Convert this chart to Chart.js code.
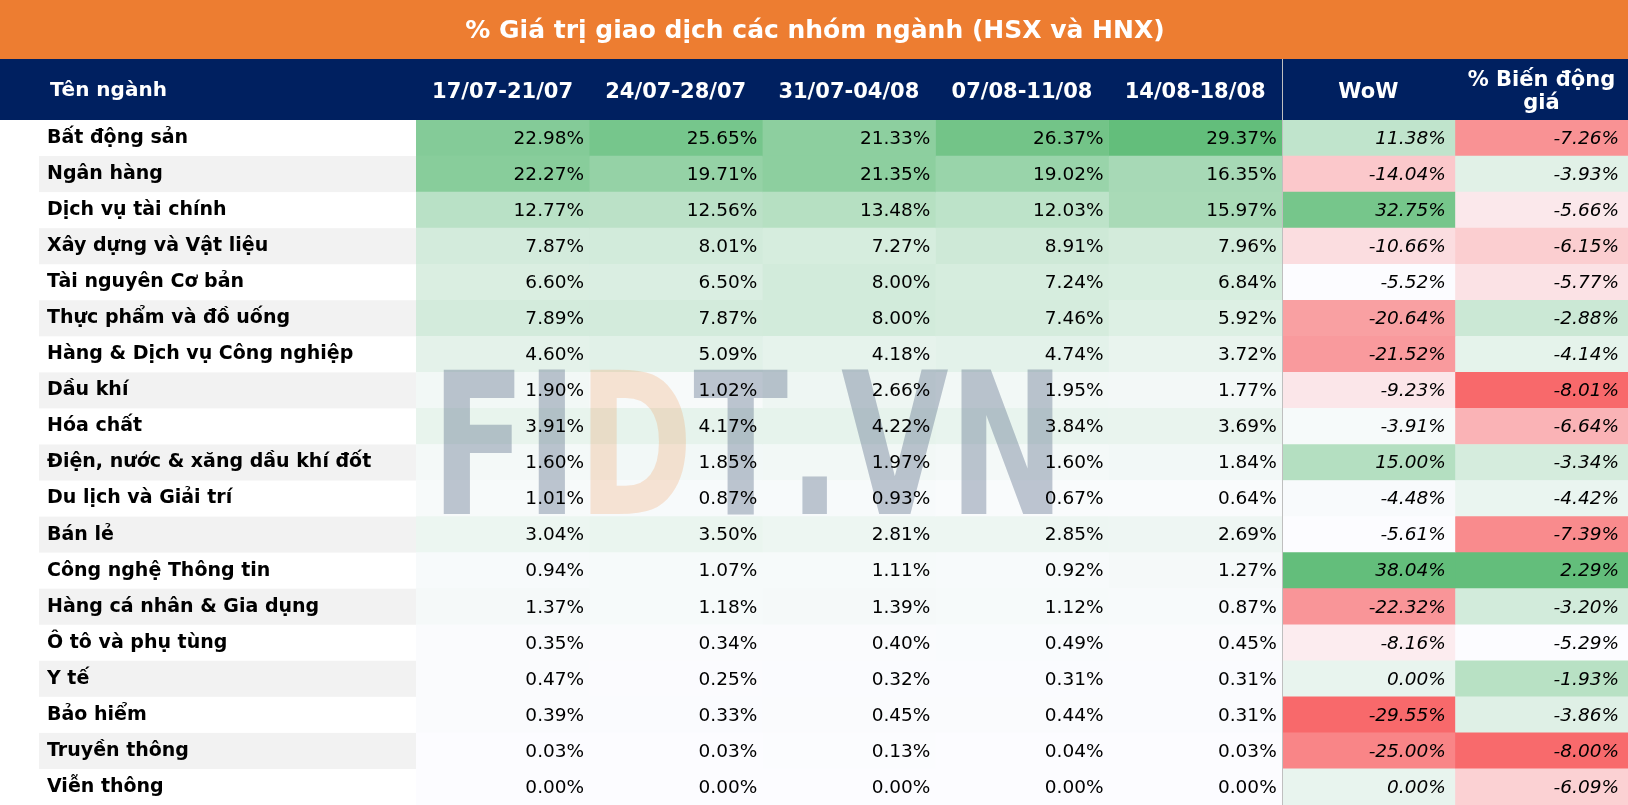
<!DOCTYPE html>
<html>
<head>
<meta charset="utf-8">
<script src="https://cdn.jsdelivr.net/npm/chart.js@4.4.0/dist/chart.umd.min.js"></script>
<style>
  body { margin: 0; background: #fff; }
  #wrap { width: 1628px; height: 805px; position: relative; }
</style>
</head>
<body>
<div id="wrap"><canvas id="tbl"></canvas></div>
<script>
// du lieu bang
var title = '% Giá trị giao dịch các nhóm ngành (HSX và HNX)';
var nameHeader = 'Tên ngành';
var headers = ['17/07-21/07', '24/07-28/07', '31/07-04/08', '07/08-11/08', '14/08-18/08', 'WoW', ['% Biến động', 'giá']];

var sectors = ['Bất động sản', 'Ngân hàng', 'Dịch vụ tài chính', 'Xây dựng và Vật liệu', 'Tài nguyên Cơ bản',
  'Thực phẩm và đồ uống', 'Hàng & Dịch vụ Công nghiệp', 'Dầu khí', 'Hóa chất', 'Điện, nước & xăng dầu khí đốt',
  'Du lịch và Giải trí', 'Bán lẻ', 'Công nghệ Thông tin', 'Hàng cá nhân & Gia dụng', 'Ô tô và phụ tùng',
  'Y tế', 'Bảo hiểm', 'Truyền thông', 'Viễn thông'];

var week1 = [22.98, 22.27, 12.77, 7.87, 6.60, 7.89, 4.60, 1.90, 3.91, 1.60, 1.01, 3.04, 0.94, 1.37, 0.35, 0.47, 0.39, 0.03, 0.00];
var week2 = [25.65, 19.71, 12.56, 8.01, 6.50, 7.87, 5.09, 1.02, 4.17, 1.85, 0.87, 3.50, 1.07, 1.18, 0.34, 0.25, 0.33, 0.03, 0.00];
var week3 = [21.33, 21.35, 13.48, 7.27, 8.00, 8.00, 4.18, 2.66, 4.22, 1.97, 0.93, 2.81, 1.11, 1.39, 0.40, 0.32, 0.45, 0.13, 0.00];
var week4 = [26.37, 19.02, 12.03, 8.91, 7.24, 7.46, 4.74, 1.95, 3.84, 1.60, 0.67, 2.85, 0.92, 1.12, 0.49, 0.31, 0.44, 0.04, 0.00];
var week5 = [29.37, 16.35, 15.97, 7.96, 6.84, 5.92, 3.72, 1.77, 3.69, 1.84, 0.64, 2.69, 1.27, 0.87, 0.45, 0.31, 0.31, 0.03, 0.00];
var wow = [11.38, -14.04, 32.75, -10.66, -5.52, -20.64, -21.52, -9.23, -3.91, 15.00, -4.48, -5.61, 38.04, -22.32, -8.16, 0.00, -29.55, -25.00, 0.00];
var priceChg = [-7.26, -3.93, -5.66, -6.15, -5.77, -2.88, -4.14, -8.01, -6.64, -3.34, -4.42, -7.39, 2.29, -3.20, -5.29, -1.93, -3.86, -8.00, -6.09];

var columns = [week1, week2, week3, week4, week5, wow, priceChg];

// mau kieu excel
var WHITE = [252, 252, 255], GREEN = [99, 190, 123], RED = [248, 105, 107];
function mix(a, b, t) {
  t = Math.max(0, Math.min(1, t));
  return 'rgb(' + a.map(function(v, i) { return Math.round(v + (b[i] - v) * t); }).join(',') + ')';
}
function median(arr) {
  var s = arr.slice().sort(function(a, b) { return a - b; });
  return s[Math.floor(s.length / 2)];
}
var weeks = [].concat(week1, week2, week3, week4, week5);
var wMin = Math.min.apply(null, weeks), wMax = Math.max.apply(null, weeks);
function colorsFor(col, j) {
  if (j < 5) {
    return col.map(function(v) { return mix(WHITE, GREEN, (v - wMin) / (wMax - wMin)); });
  }
  var mn = Math.min.apply(null, col), mx = Math.max.apply(null, col), md = median(col);
  return col.map(function(v) {
    return v >= md ? mix(WHITE, GREEN, (v - md) / (mx - md)) : mix(WHITE, RED, (md - v) / (md - mn));
  });
}

var datasets = columns.map(function(col, j) {
  return {
    label: 'c' + j,
    data: col.map(function() { return [j, j + 1]; }),
    values: col,
    backgroundColor: colorsFor(col, j),
    borderWidth: 0,
    grouped: false,
    barPercentage: 1,
    categoryPercentage: 1
  };
});

var FONT = 'DejaVu Sans';

var tablePlugin = {
  id: 'tablePlugin',
  beforeDraw: function(chart) {
    var ctx = chart.ctx, W = chart.width, yS = chart.scales.y, ca = chart.chartArea;
    ctx.save();
    ctx.fillStyle = '#fff';
    ctx.fillRect(0, 0, W, chart.height);
    // title
    ctx.fillStyle = '#ED7D31';
    ctx.fillRect(0, 0, W, 59);
    ctx.fillStyle = '#fff';
    ctx.font = 'bold 25px ' + FONT;
    ctx.textAlign = 'center';
    ctx.textBaseline = 'middle';
    ctx.fillText(title, 815, 31);
    // header
    ctx.fillStyle = '#002060';
    ctx.fillRect(0, 59, W, ca.top - 59);
    ctx.fillStyle = '#fff';
    ctx.font = 'bold 20px ' + FONT;
    ctx.textAlign = 'left';
    ctx.fillText(nameHeader, 50, 91);
    // soc xam cot ten
    var step = (ca.bottom - ca.top) / sectors.length;
    ctx.fillStyle = '#F2F2F2';
    sectors.forEach(function(s, i) {
      if (i % 2 === 1) {
        var yc = yS.getPixelForValue(i);
        ctx.fillRect(39, yc - step / 2, ca.left - 39, step);
      }
    });
    ctx.restore();
  },
  afterDatasetsDraw: function(chart) {
    var ctx = chart.ctx, xS = chart.scales.x, ca = chart.chartArea;
    ctx.save();
    // watermark
    ctx.font = 'bold 200px ' + FONT;
    ctx.textBaseline = 'alphabetic';
    ctx.textAlign = 'left';
    var wm = 'FIDT.VN';
    var full = ctx.measureText(wm).width;
    var sx = 613 / full;
    ctx.translate(431, 514);
    ctx.scale(sx, 0.99);
    var px = 0;
    for (var k = 0; k < wm.length; k++) {
      ctx.fillStyle = wm[k] === 'D' ? 'rgba(240,140,70,0.22)' : 'rgba(80,100,130,0.36)';
      ctx.fillText(wm[k], px, 0);
      px += ctx.measureText(wm[k]).width;
    }
    ctx.restore();

    ctx.save();
    ctx.fillStyle = '#000';
    ctx.textAlign = 'right';
    ctx.textBaseline = 'middle';
    chart.data.datasets.forEach(function(ds, j) {
      var meta = chart.getDatasetMeta(j);
      ctx.font = (j >= 5 ? 'italic ' : '') + '18.5px ' + FONT;
      meta.data.forEach(function(el, i) {
        var p = el.getProps(['x', 'y', 'base'], true);
        var right = Math.max(p.x, p.base);
        ctx.fillText(ds.values[i].toFixed(2) + '%', right - (j >= 5 ? 9 : 5), p.y + 1);
      });
    });
    // duong ke doc truoc cot WoW
    var lx = Math.round(xS.getPixelForValue(5)) + 0.5;
    ctx.strokeStyle = '#BFBFBF';
    ctx.lineWidth = 1;
    ctx.beginPath();
    ctx.moveTo(lx, 59);
    ctx.lineTo(lx, ca.bottom);
    ctx.stroke();
    ctx.restore();
  }
};

new Chart(document.getElementById('tbl'), {
  type: 'bar',
  data: { labels: sectors, datasets: datasets },
  options: {
    indexAxis: 'y',
    responsive: true,
    maintainAspectRatio: false,
    animation: false,
    layout: { padding: { top: 59, left: 47, right: 0, bottom: 0 } },
    plugins: { legend: { display: false }, tooltip: { enabled: false }, title: { display: false } },
    scales: {
      x: {
        type: 'linear',
        position: 'top',
        min: 0,
        max: 7,
        grid: { display: false },
        border: { display: false },
        afterBuildTicks: function(scale) {
          scale.ticks = headers.map(function(h, i) { return { value: i + 0.5 }; });
        },
        afterFit: function(scale) {
          scale.height = 61;
          scale.paddingLeft = 0;
          scale.paddingRight = 0;
        },
        ticks: {
          autoSkip: false,
          maxRotation: 0,
          minRotation: 0,
          crossAlign: 'center',
          padding: 8,
          color: '#fff',
          font: { family: FONT, size: 21, weight: 'bold', lineHeight: 1.1 },
          callback: function(v, i) { return headers[i]; }
        }
      },
      y: {
        type: 'category',
        grid: { display: false },
        border: { display: false },
        afterFit: function(scale) {
          scale.width = 416 - 47;
          scale.paddingTop = 0;
          scale.paddingBottom = 0;
        },
        ticks: {
          crossAlign: 'far',
          padding: 0,
          color: '#000',
          font: { family: FONT, size: 19, weight: 'bold' }
        }
      }
    }
  },
  plugins: [tablePlugin]
});
</script>
</body>
</html>
